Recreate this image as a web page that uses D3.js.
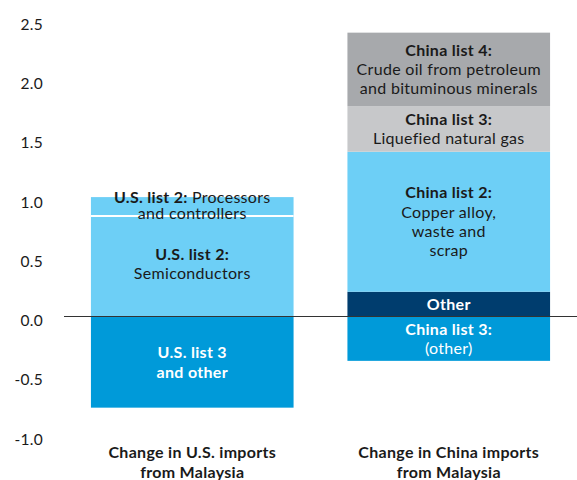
<!DOCTYPE html>
<html>
<head>
<meta charset="utf-8">
<script src="https://cdn.jsdelivr.net/npm/d3@7"></script>
<style>
  body { margin: 0; background: #fff; }
  svg { font-family: Lato, "Open Sans", sans-serif; }
</style>
</head>
<body>
<div id="canvas"></div>
<script>
// categories and their axis labels
const categories = ["us", "china"];
const categoryLabels = [
  ["Change in U.S. imports", "from Malaysia"],
  ["Change in China imports", "from Malaysia"]
];
const yTicks = [2.5, 2.0, 1.5, 1.0, 0.5, 0.0, -0.5, -1.0];

// segments, stacked from zero outward (positive up, negative down)
const usSegments = [
  { name: "U.S. list 3 and other", value: -0.765, color: "#009ad9", text: "#fff",
    lines: [["U.S. list 3", ""], ["and other", ""]] },
  { name: "Semiconductors", value: 0.852, color: "#6dcff6", text: "#1a1a1a",
    lines: [["U.S. list 2:", ""], ["", "Semiconductors"]] },
  { name: "Processors and controllers", value: 0.16, color: "#6dcff6", text: "#1a1a1a",
    lines: [["U.S. list 2: ", "Processors"], ["", "and controllers"]] }
];
const chinaSegments = [
  { name: "China list 3 other", value: -0.37, color: "#009ad9", text: "#fff",
    lines: [["China list 3:", ""], ["", "(other)"]] },
  { name: "Other", value: 0.213, color: "#003d6e", text: "#fff",
    lines: [["Other", ""]] },
  { name: "Copper alloy", value: 1.182, color: "#6dcff6", text: "#1a1a1a",
    lines: [["China list 2:", ""], ["", "Copper alloy,"], ["", "waste and"], ["", "scrap"]] },
  { name: "Liquefied natural gas", value: 0.385, color: "#c7c8ca", text: "#1a1a1a",
    lines: [["China list 3:", ""], ["", "Liquefied natural gas"]] },
  { name: "Crude oil", value: 0.62, color: "#a7a9ac", text: "#1a1a1a",
    lines: [["China list 4:", ""], ["", "Crude oil from petroleum"], ["", "and bituminous minerals"]] }
];

function drawChart() {
  const width = 577;
  const height = 480;

  const svg = d3.select("#canvas").append("svg")
    .attr("width", width)
    .attr("height", height);

  const y = d3.scaleLinear().domain([-1.0, 2.5]).range([435.5, 20.8]);
  const x = d3.scaleBand().domain(categories).range([64, 577])
    .paddingInner(0.21).paddingOuter(0.105);

  // stack segments
  function stack(segs) {
    let pos = 0, neg = 0;
    return segs.map(s => {
      let y0, y1;
      if (s.value >= 0) { y0 = pos; y1 = pos + s.value; pos = y1; }
      else { y1 = neg; y0 = neg + s.value; neg = y0; }
      return Object.assign({}, s, { y0, y1 });
    });
  }
  const data = [
    { cat: "us", segs: stack(usSegments) },
    { cat: "china", segs: stack(chinaSegments) }
  ];

  // y axis labels
  const yAxis = svg.append("g")
    .attr("transform", "translate(43,0)")
    .call(d3.axisLeft(y).tickValues(yTicks).tickSize(0).tickPadding(0));
  yAxis.select(".domain").remove();
  yAxis.selectAll("text")
    .attr("fill", "#1a1a1a")
    .attr("font-size", 15.5)
    .attr("font-family", "Lato, sans-serif")
    .attr("letter-spacing", 0.3)
    .attr("dy", "0.55em")
    .text(d => d3.format(".1f")(d).replace("−", "-"));

  const groups = svg.selectAll("g.bar").data(data).enter()
    .append("g").attr("class", "bar");

  groups.each(function(d) {
    const g = d3.select(this);
    const bx = x(d.cat), bw = x.bandwidth();
    g.selectAll("rect").data(d.segs).enter().append("rect")
      .attr("x", bx)
      .attr("width", bw)
      .attr("y", s => y(s.y1))
      .attr("height", s => y(s.y0) - y(s.y1))
      .attr("fill", s => s.color);

    // white separator between same-coloured neighbours
    d.segs.forEach((s, i) => {
      const next = d.segs[i + 1];
      if (next && next.color === s.color && s.value > 0) {
        g.append("line")
          .attr("x1", bx).attr("x2", bx + bw)
          .attr("y1", y(s.y1)).attr("y2", y(s.y1))
          .attr("stroke", "#fff").attr("stroke-width", 2);
      }
    });

    // labels
    d.segs.forEach(s => {
      const n = s.lines.length;
      let lh = 19.3;
      let cy = (y(s.y0) + y(s.y1)) / 2;
      if (s.name === "Processors and controllers") { cy = y(s.y1) + 8.5; lh = 15.5; }
      if (s.name === "Semiconductors") cy = y(s.y1) + 48;
      const t = g.append("text")
        .attr("text-anchor", "middle")
        .attr("font-size", 16)
        .attr("letter-spacing", 0.3)
        .attr("fill", s.text);
      s.lines.forEach((ln, i) => {
        const ts = t.append("tspan")
          .attr("x", bx + bw / 2)
          .attr("y", cy + (i - (n - 1) / 2) * lh)
          .attr("dy", "0.35em");
        if (ln[0]) ts.append("tspan").attr("font-weight", "bold").text(ln[0]);
        if (ln[1]) ts.append("tspan").text(ln[1]);
      });
    });

    // category label
    const cl = categoryLabels[categories.indexOf(d.cat)];
    cl.forEach((line, i) => {
      g.append("text")
        .attr("x", bx + bw / 2)
        .attr("y", 452 + i * 20)
        .attr("dy", "0.35em")
        .attr("text-anchor", "middle")
        .attr("font-size", 16)
        .attr("letter-spacing", 0.3)
        .attr("font-weight", "bold")
        .attr("fill", "#1a1a1a")
        .text(line);
    });
  });

  // zero line
  svg.append("line")
    .attr("x1", 64).attr("x2", 577)
    .attr("y1", Math.round(y(0)) - 0.5).attr("y2", Math.round(y(0)) - 0.5)
    .attr("stroke", "#333").attr("stroke-width", 1);
}

drawChart();
</script>
</body>
</html>
